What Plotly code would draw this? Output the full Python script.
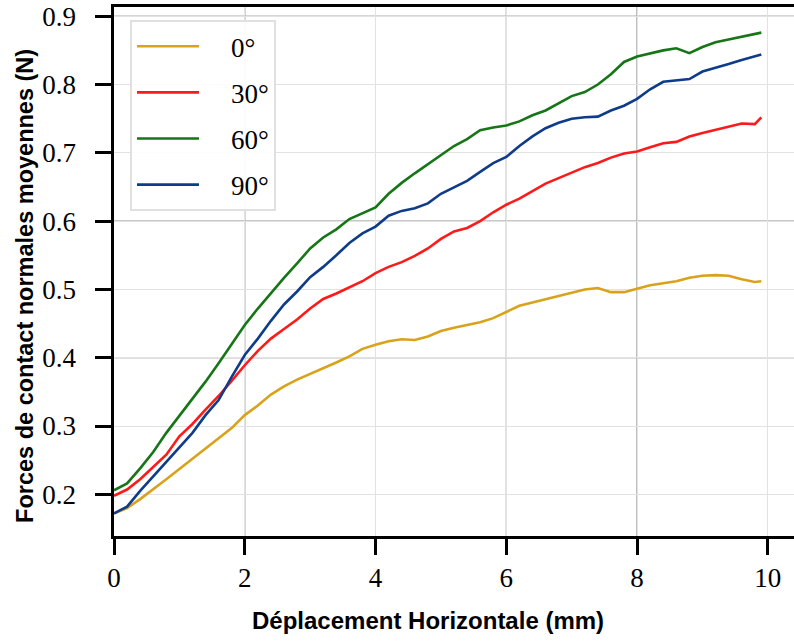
import plotly.graph_objects as go

# Data
deplacement = [0.0, 0.2, 0.4, 0.6, 0.8, 1.0, 1.2, 1.4, 1.6, 1.8, 2.0, 2.2, 2.4, 2.6, 2.8,
               3.0, 3.2, 3.4, 3.6, 3.8, 4.0, 4.2, 4.4, 4.6, 4.8, 5.0, 5.2, 5.4, 5.6, 5.8,
               6.0, 6.2, 6.4, 6.6, 6.8, 7.0, 7.2, 7.4, 7.6, 7.8, 8.0, 8.2, 8.4, 8.6, 8.8,
               9.0, 9.2, 9.4, 9.6, 9.8, 9.9]

force_0 = [0.172, 0.180, 0.193, 0.207, 0.222, 0.237, 0.252, 0.266, 0.281, 0.297, 0.316,
           0.330, 0.346, 0.358, 0.368, 0.376, 0.384, 0.393, 0.402, 0.413, 0.419, 0.424,
           0.427, 0.426, 0.431, 0.439, 0.444, 0.448, 0.452, 0.458, 0.467, 0.476, 0.481,
           0.486, 0.491, 0.496, 0.500, 0.502, 0.496, 0.496, 0.501, 0.506, 0.509, 0.512,
           0.517, 0.520, 0.521, 0.520, 0.515, 0.511, 0.512]

force_30 = [0.198, 0.207, 0.222, 0.240, 0.258, 0.285, 0.303, 0.324, 0.344, 0.366, 0.389,
            0.410, 0.428, 0.442, 0.456, 0.472, 0.486, 0.494, 0.503, 0.512, 0.524, 0.533,
            0.540, 0.549, 0.560, 0.574, 0.585, 0.590, 0.600, 0.613, 0.624, 0.633, 0.644,
            0.655, 0.663, 0.671, 0.679, 0.685, 0.693, 0.699, 0.702, 0.708, 0.714, 0.716,
            0.724, 0.729, 0.734, 0.739, 0.743, 0.742, 0.752]

force_60 = [0.206, 0.216, 0.238, 0.262, 0.290, 0.315, 0.340, 0.365, 0.392, 0.420, 0.448,
            0.472, 0.495, 0.517, 0.538, 0.560, 0.576, 0.588, 0.603, 0.612, 0.620, 0.640,
            0.656, 0.670, 0.683, 0.697, 0.710, 0.720, 0.733, 0.737, 0.740, 0.746, 0.755,
            0.762, 0.773, 0.783, 0.789, 0.800, 0.815, 0.833, 0.841, 0.846, 0.850, 0.853,
            0.846, 0.855, 0.862, 0.866, 0.870, 0.874, 0.876]

force_90 = [0.172, 0.182, 0.205, 0.226, 0.248, 0.268, 0.290, 0.316, 0.338, 0.372, 0.404,
            0.428, 0.454, 0.478, 0.497, 0.518, 0.533, 0.550, 0.568, 0.582, 0.592, 0.608,
            0.615, 0.619, 0.626, 0.640, 0.650, 0.659, 0.672, 0.685, 0.694, 0.710, 0.724,
            0.736, 0.744, 0.750, 0.752, 0.753, 0.762, 0.769, 0.779, 0.793, 0.804, 0.806,
            0.808, 0.819, 0.824, 0.830, 0.836, 0.841, 0.844]

series_names = ["0°", "30°", "60°", "90°"]
series_values = [force_0, force_30, force_60, force_90]
series_colors = ["#d9a21b", "#ff1a1a", "#167516", "#0f3c8a"]

x_tickvals = [0, 2, 4, 6, 8, 10]
y_tickvals = [0.2, 0.3, 0.4, 0.5, 0.6, 0.7, 0.8, 0.9]
y_ticktext = ["0.2", "0.3", "0.4", "0.5", "0.6", "0.7", "0.8", "0.9"]
dark_x_grid = [2, 6, 8]
dark_y_grid = [0.4, 0.6, 0.9]

x_title = "Déplacement Horizontale (mm)"
y_title = "Forces de contact normales moyennes (N)"

fig = go.Figure()
for i, (name, vals, col) in enumerate(zip(series_names, series_values, series_colors)):
    fig.add_trace(go.Scatter(
        x=deplacement, y=vals, mode="lines", name="\u00a0\u00a0\u00a0\u00a0" + name,
        line=dict(color=col, width=2.6), legendgroup=f"g{i}",
    ))

for xv in dark_x_grid:
    fig.add_shape(type="line", xref="x", yref="paper", x0=xv, x1=xv, y0=0, y1=1,
                  line=dict(color="#6a6a6a", width=1), layer="below")
for yv in dark_y_grid:
    fig.add_shape(type="line", xref="paper", yref="y", x0=0, x1=1, y0=yv, y1=yv,
                  line=dict(color="#6a6a6a", width=1), layer="below")

tick_font = dict(family="Liberation Serif", size=27, color="black")
x_title_font = dict(family="Liberation Sans", size=24, color="black", weight="bold")
y_title_font = dict(family="Liberation Sans", size=23.5, color="black", weight="bold")

fig.add_annotation(text=x_title, xref="paper", yref="paper", x=0.462, y=-0.159,
                   xanchor="center", yanchor="middle", showarrow=False, font=x_title_font)
fig.add_annotation(text=y_title, xref="paper", yref="paper", x=-0.131, y=0.4726,
                   xanchor="center", yanchor="middle", showarrow=False, font=y_title_font,
                   textangle=-90)

fig.update_layout(
    width=794, height=644,
    margin=dict(l=114, r=0, t=7, b=108),
    paper_bgcolor="white", plot_bgcolor="white",
    showlegend=True,
    legend=dict(
        x=0.0235, y=0.975, xanchor="left", yanchor="top",
        bgcolor="rgba(255,255,255,0.9)", bordercolor="#e0e0e0", borderwidth=2,
        font=dict(family="Liberation Serif", size=27, color="black"),
        itemwidth=62, tracegroupgap=8,
    ),
    xaxis=dict(
        range=[0, 10.4], tickvals=x_tickvals, ticks="outside", ticklen=16, tickwidth=3,
        tickcolor="black", showline=True, linecolor="black", linewidth=3, mirror=True,
        showgrid=True, gridcolor="#e2e2e2", gridwidth=1, zeroline=False,
        tickfont=tick_font, automargin=False,
    ),
    yaxis=dict(
        range=[0.139, 0.9135], tickvals=y_tickvals,
        ticktext=[t + "\u00a0\u00a0" for t in y_ticktext],
        ticks="outside", ticklen=16, tickwidth=3,
        tickcolor="black", showline=True, linecolor="black", linewidth=3, mirror=False,
        showgrid=True, gridcolor="#e2e2e2", gridwidth=1, zeroline=False,
        tickfont=tick_font, automargin=False,
    ),
)

fig.write_html("out.html", post_script="document.body.style.margin='0';",
               config={"displayModeBar": False})
